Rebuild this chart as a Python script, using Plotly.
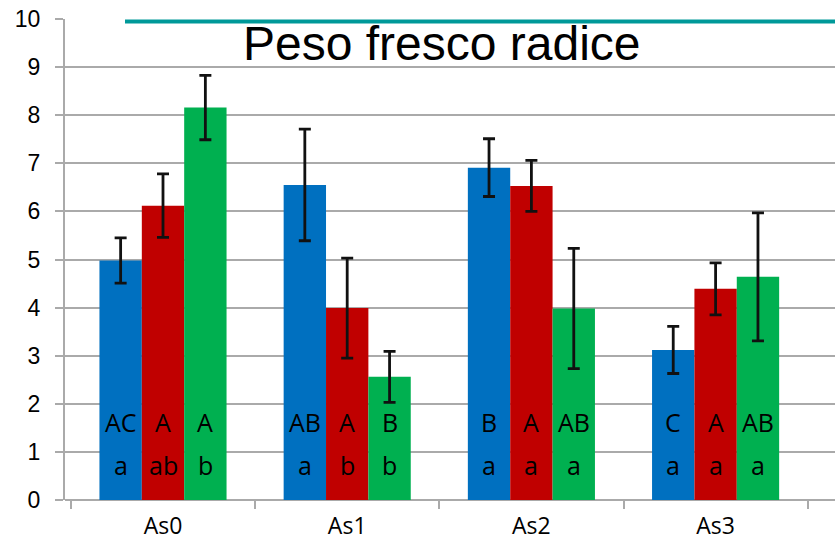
import plotly.graph_objects as go

categories = ["As0", "As1", "As2", "As3"]
series_names = ["S1", "S2", "S3"]
blue_vals = [4.98, 6.55, 6.91, 3.12]
red_vals = [6.12, 3.99, 6.53, 4.39]
green_vals = [8.16, 2.56, 3.98, 4.64]
blue_err = [0.47, 1.16, 0.60, 0.49]
red_err = [0.66, 1.04, 0.53, 0.54]
green_err = [0.67, 0.53, 1.25, 1.33]
upper_letters = [["AC", "A", "A"], ["AB", "A", "B"], ["B", "A", "AB"], ["C", "A", "AB"]]
lower_letters = [["a", "ab", "b"], ["a", "b", "b"], ["a", "a", "a"], ["a", "a", "a"]]
title_text = "Peso fresco radice"
y_ticks = [0, 1, 2, 3, 4, 5, 6, 7, 8, 9, 10]

colors = ["#0070C0", "#C00000", "#00B050"]
vals = [blue_vals, red_vals, green_vals]
errs = [blue_err, red_err, green_err]

fig = go.Figure()
for i in range(3):
    fig.add_trace(go.Bar(
        x=categories, y=vals[i], name=series_names[i],
        marker=dict(color=colors[i], line=dict(width=0)),
        error_y=dict(type="data", array=errs[i], visible=True,
                     color="#111111", thickness=2.8, width=6),
    ))

W, H = 835, 546
ml, mr, mt, mb = 65, 0, 19, 46
plot_w = W - ml - mr
plot_h = H - mt - mb
cat_px = 184.2
x_left = -98.0 / cat_px
x_right = x_left + plot_w / cat_px
bargap = 0.31
bar_px = cat_px * (1 - bargap) / 3

annotations = []
for ci, cat in enumerate(categories):
    for j in range(3):
        for txt, yy in ((upper_letters[ci][j], 1.63), (lower_letters[ci][j], 0.73)):
            annotations.append(dict(
                x=cat, y=yy, xref="x", yref="y", text=txt, showarrow=False,
                xshift=(j - 1) * bar_px, font=dict(family="Open Sans", size=25, color="#000000"),
            ))
annotations.append(dict(
    x=(442 - ml) / plot_w, y=1 - (44 - mt) / plot_h, xref="paper", yref="paper",
    yanchor="middle", text=title_text, showarrow=False,
    font=dict(family="Liberation Sans, Arial", size=48, color="#000000"),
))

fig.update_layout(
    width=W, height=H,
    margin=dict(l=ml, r=mr, t=mt, b=mb, pad=0),
    paper_bgcolor="white", plot_bgcolor="white",
    barmode="group", bargap=bargap, bargroupgap=0,
    showlegend=False,
    annotations=annotations,
    shapes=[dict(type="line", xref="paper", yref="y",
                 x0=(125 - ml) / plot_w, x1=1.0, y0=9.95, y1=9.95,
                 line=dict(color="#009999", width=4), layer="above")],
    xaxis=dict(
        range=[x_left, x_right], type="category", tickson="boundaries",
        ticks="outside", ticklen=8, tickcolor="#aaaaaa", tickwidth=2,
        showline=False, showgrid=False, zeroline=False, ticklabelstandoff=10,
        tickfont=dict(family="Open Sans", size=23, color="#000000"),
    ),
    yaxis=dict(
        range=[0, 10], tickvals=y_ticks, ticks="outside", ticklen=8,
        tickcolor="#aaaaaa", tickwidth=2, showline=True, linecolor="#aaaaaa", linewidth=2,
        showgrid=True, gridcolor="#aaaaaa", gridwidth=2, zeroline=True,
        zerolinecolor="#aaaaaa", zerolinewidth=2, ticklabelstandoff=10,
        tickfont=dict(family="Liberation Sans, Arial", size=23, color="#000000"),
    ),
)

fig.write_html("out.html", config={"displayModeBar": False},
               post_script="document.body.style.margin='0px';document.body.style.overflow='hidden';")
